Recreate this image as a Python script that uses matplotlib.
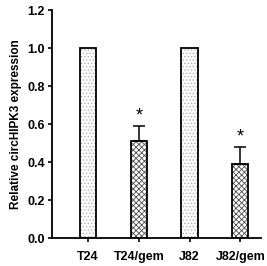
import numpy as np
import matplotlib.pyplot as plt

plt.rcParams['font.family'] = ['Liberation Sans', 'DejaVu Sans']
plt.rcParams['font.weight'] = 'bold'
plt.rcParams['hatch.linewidth'] = 0.6

groups = ['T24', 'T24/gem', 'J82', 'J82/gem']
expression = [1.0, 0.51, 1.0, 0.39]
errors = [0, 0.08, 0, 0.09]
significant = [False, True, False, True]
hatches = ['.....', 'xxxxxx', '.....', 'xxxxxx']
hatch_colors = ['#b0b0b0', '#505050', '#b0b0b0', '#505050']

fig = plt.figure(figsize=(2.67, 2.66), dpi=100)
ax = fig.add_axes([0.195, 0.105, 0.783, 0.857])

x = np.arange(len(groups))
# hatch layer first, then black outline on top
for i in range(len(groups)):
    ax.bar(x[i], expression[i], width=0.32, color='white', hatch=hatches[i],
           edgecolor=hatch_colors[i], linewidth=0, zorder=2)
ax.bar(x, expression, width=0.32, color='none', edgecolor='black', linewidth=1.3, zorder=3)

for i in range(len(groups)):
    if errors[i] > 0:
        ax.errorbar(x[i], expression[i], yerr=[[0], [errors[i]]], fmt='none',
                    ecolor='black', elinewidth=1.1, capsize=4, capthick=1.1, zorder=4)
    if significant[i]:
        ax.text(x[i], expression[i] + errors[i] + 0.01, '*', ha='center', va='bottom',
                fontsize=13, fontweight='normal')

ax.set_xlim(-0.71, 3.41)
ax.set_ylim(0, 1.2)
ax.set_yticks([0.0, 0.2, 0.4, 0.6, 0.8, 1.0, 1.2])
ax.set_yticklabels(['0.0', '0.2', '0.4', '0.6', '0.8', '1.0', '1.2'], fontsize=9)
ax.set_xticks(x)
ax.set_xticklabels(groups, fontsize=9)
ax.set_ylabel('Relative circHIPK3 expression', fontsize=8.5, fontweight='bold', labelpad=4)

ax.spines['top'].set_visible(False)
ax.spines['right'].set_visible(False)
ax.spines['left'].set_linewidth(1.3)
ax.spines['bottom'].set_linewidth(1.3)
ax.tick_params(width=1.2, length=3, pad=2)
ax.tick_params(axis='x', pad=6)

fig.savefig('out.png', dpi=100)
